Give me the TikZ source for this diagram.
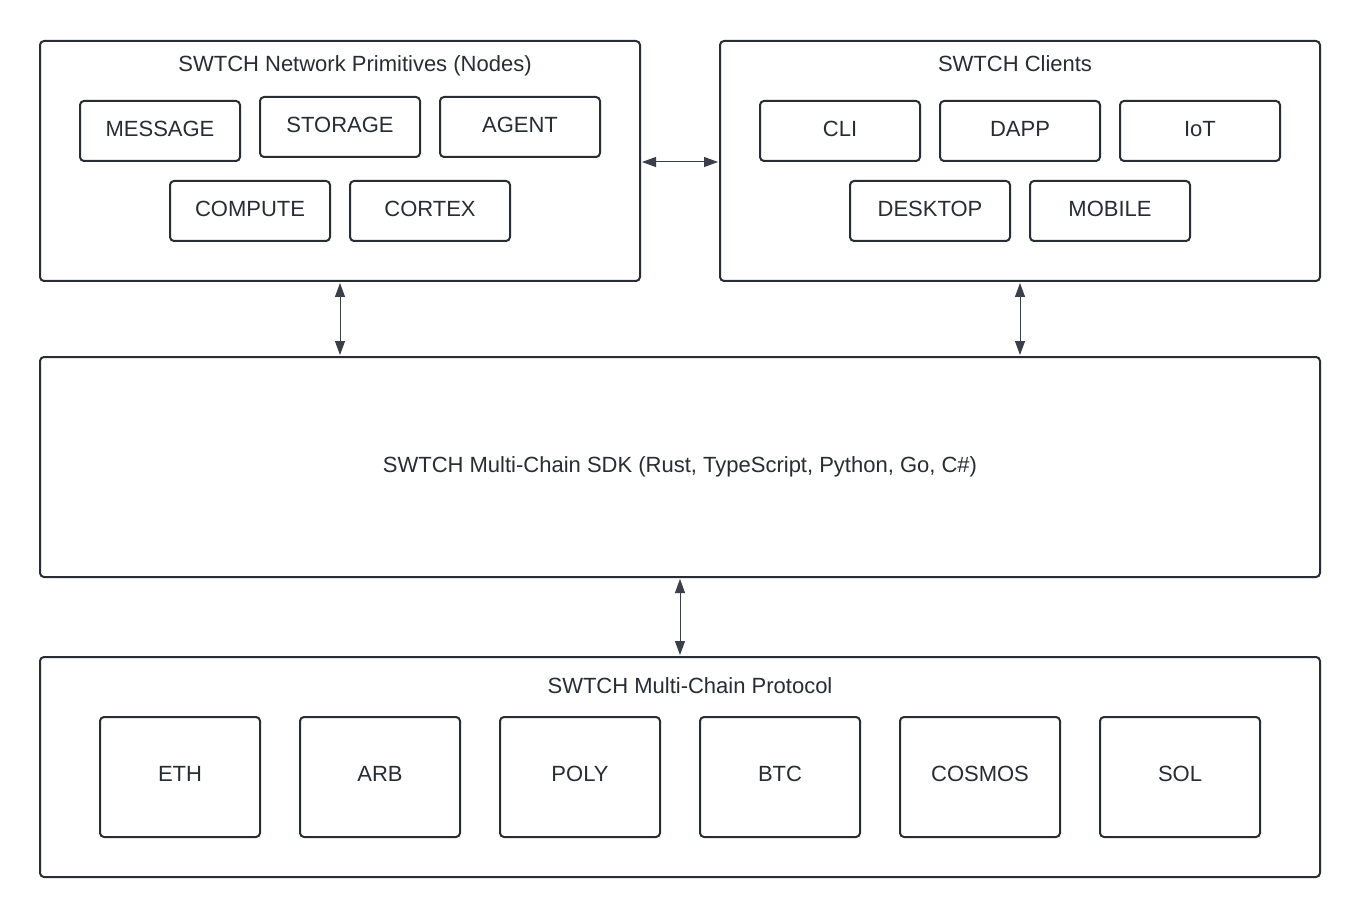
\documentclass[tikz,border=0pt]{standalone}
\usepackage{fontspec}
\setmainfont{Liberation Sans}
\usetikzlibrary{arrows.meta}
\definecolor{edge}{HTML}{282C33}
\definecolor{arr}{HTML}{3A3F4A}
\begin{document}
\begin{tikzpicture}[x=1pt,y=-1pt,
  outer/.style={draw=edge, line width=2pt, rounded corners=4pt, minimum width=600pt, minimum height=240pt, inner sep=0pt},
  wide/.style={draw=edge, line width=2pt, rounded corners=4pt, minimum width=1280pt, minimum height=220pt, inner sep=0pt},
  item/.style={draw=edge, line width=2pt, rounded corners=4pt, minimum width=160pt, minimum height=60pt, inner sep=0pt, text depth=5pt, font=\fontsize{22}{26}\selectfont, text=edge},
  chain/.style={item, minimum height=120pt, text depth=7pt},
  title/.style={font=\fontsize{22}{26}\selectfont, text=edge, inner sep=0pt, anchor=base},
  link/.style={draw=arr, line width=1pt, {Triangle[length=14pt,width=10pt]}-{Triangle[length=14pt,width=10pt]}, shorten >=1pt, shorten <=1pt}
]
\useasboundingbox (0,0) rectangle (1360,917);
\fill[white] (0,0) rectangle (1360,917);

\node[outer] (net) at (340,161) {};
\node[outer] (cl) at (1020,161) {};
\node[wide] (sdk) at (680,467) {};
\node[wide] (proto) at (680,767) {};

\node[title] (nettitle) at (355,72) {SWTCH Network Primitives (Nodes)};
\node[title] (cltitle) at (1015,72) {SWTCH Clients};
\node[title] (sdktitle) at (680,472) {SWTCH Multi-Chain SDK (Rust, TypeScript, Python, Go, C\#)};
\node[title] (prototitle) at (690,693) {SWTCH Multi-Chain Protocol};

\node[item] (message) at (160,131) {MESSAGE};
\node[item] (storage) at (340,127) {STORAGE};
\node[item] (agent) at (520,127) {AGENT};
\node[item] (compute) at (250,211) {COMPUTE};
\node[item] (cortex) at (430,211) {CORTEX};

\node[item] (cli) at (840,131) {CLI};
\node[item] (dapp) at (1020,131) {DAPP};
\node[item] (iot) at (1200,131) {IoT};
\node[item] (desktop) at (930,211) {DESKTOP};
\node[item] (mobile) at (1110,211) {MOBILE};

\node[chain] (eth) at (180,777) {ETH};
\node[chain] (arb) at (380,777) {ARB};
\node[chain] (poly) at (580,777) {POLY};
\node[chain] (btc) at (780,777) {BTC};
\node[chain] (cosmos) at (980,777) {COSMOS};
\node[chain] (sol) at (1180,777) {SOL};

\draw[link] ([yshift=-1pt]net.east) -- ([yshift=-1pt]cl.west);
\draw[link] (net.south) -- (sdk.north -| net.south);
\draw[link] (cl.south) -- (sdk.north -| cl.south);
\draw[link] (sdk.south) -- (proto.north);
\end{tikzpicture}
\end{document}
